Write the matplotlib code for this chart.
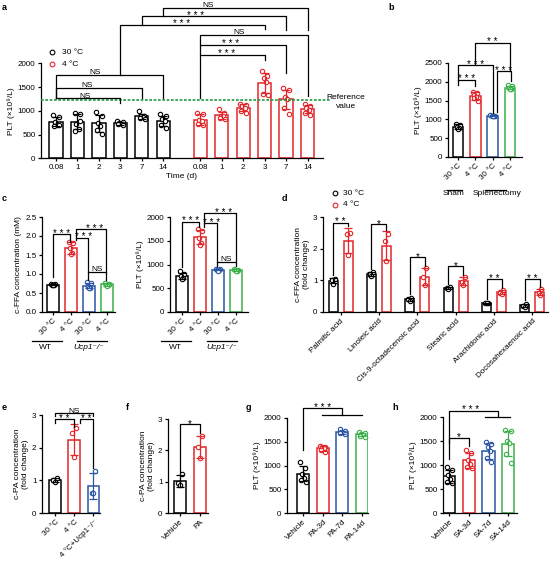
import numpy as np
import matplotlib
matplotlib.use('Agg')
import matplotlib.pyplot as plt

plt.rcParams['font.family'] = ['Liberation Sans', 'DejaVu Sans']
plt.rcParams['axes.linewidth'] = 0.9
plt.rcParams['xtick.major.width'] = 0.9
plt.rcParams['ytick.major.width'] = 0.9
plt.rcParams['xtick.major.size'] = 2.5
plt.rcParams['ytick.major.size'] = 2.5
plt.rcParams['xtick.major.pad'] = 1.5
plt.rcParams['ytick.major.pad'] = 1.5
plt.rcParams['xtick.labelsize'] = 5.8
plt.rcParams['ytick.labelsize'] = 5.8
plt.rcParams['axes.labelsize'] = 6

BLACK = '#000000'
RED = '#e3262a'
BLUE = '#2a55a3'
GREEN = '#3bb04a'
REFGREEN = '#1f9a3f'
COL4 = [BLACK, RED, BLUE, GREEN]

# ---------------- data ----------------
# a: PLT over time, 30 C vs 4 C
a_days = ['0.08', '1', '2', '3', '7', '14']
a_warm = [[910, 860, 770, 700, 680, 700],
          [960, 930, 730, 620, 570, 780],
          [980, 880, 740, 680, 600, 520],
          [780, 760, 740, 730, 720, 700],
          [990, 900, 880, 860, 840, 830],
          [930, 880, 820, 780, 700, 640]]
a_cold = [[960, 930, 800, 780, 720, 700],
          [1040, 950, 900, 880, 850, 830],
          [1140, 1130, 1100, 1050, 1000, 960],
          [1830, 1740, 1700, 1600, 1350, 1330],
          [1470, 1430, 1290, 1250, 1060, 940],
          [1140, 1100, 1050, 1010, 960, 920]]
a_ref = 1225

# b: sham vs splenectomy
b_labels = ['30 °C', '4 °C', '30 °C', '4 °C']
b_plt = [[880, 850, 800, 760, 740],
         [1740, 1700, 1660, 1600, 1560, 1480],
         [1110, 1100, 1090, 1080, 1080],
         [1920, 1880, 1830, 1810, 1800]]

# c: WT vs Ucp1-/-
c_labels = ['30 °C', '4 °C', '30 °C', '4 °C']
c_ffa = [[0.74, 0.73, 0.72, 0.71, 0.70],
         [1.85, 1.82, 1.68, 1.55, 1.52],
         [0.78, 0.77, 0.66, 0.64, 0.62],
         [0.77, 0.75, 0.72, 0.71, 0.69]]
c_plt = [[860, 790, 760, 720, 700],
         [1750, 1700, 1560, 1450, 1420],
         [910, 900, 890, 880, 870],
         [900, 890, 880, 870, 860]]

# d: individual FFAs, fold change
d_acids = ['Palmitic acid', 'Linoleic acid', 'Cis-9-octadecenoic acid',
           'Stearic acid', 'Arachidonic acid', 'Docosahexaenoic acid']
d_warm = [[1.05, 1.0, 0.9], [1.25, 1.2, 1.15], [0.45, 0.4, 0.35],
          [0.78, 0.76, 0.74], [0.3, 0.28, 0.27], [0.25, 0.2, 0.17]]
d_cold = [[2.5, 2.45, 1.8], [2.45, 2.25, 1.6], [1.4, 1.1, 0.85],
          [1.1, 0.95, 0.85], [0.7, 0.6, 0.57], [0.72, 0.6, 0.55]]
d_sig = ['* *', '*', '*', '*', '* *', '* *']
d_sig_y = [2.82, 2.77, 1.73, 1.44, 1.03, 1.03]

# e: c-PA
e_labels = ['30 °C', '4 °C', '4 °C+Ucp1⁻/⁻']
e_pa = [[1.08, 1.0, 0.95], [2.6, 2.45, 1.7], [1.3, 0.6, 0.6]]

# f: c-PA after PA
f_labels = ['Vehicle', 'PA']
f_pa = [[1.25, 0.95, 0.9], [2.45, 2.1, 1.75]]

# g: PLT after PA
g_labels = ['Vehicle', 'PA-3d', 'PA-7d', 'PA-14d']
g_plt = [[1070, 950, 820, 740, 700, 660],
         [1410, 1400, 1390, 1370, 1320, 1290],
         [1760, 1720, 1700, 1690, 1680, 1670],
         [1700, 1690, 1670, 1640, 1620, 1610]]

# h: PLT after SA
h_labels = ['Vehicle', 'SA-3d', 'SA-7d', 'SA-14d']
h_plt = [[950, 900, 800, 700, 650, 620],
         [1320, 1250, 1100, 1020, 950, 940],
         [1480, 1440, 1380, 1300, 1150, 1060],
         [1720, 1700, 1500, 1450, 1230, 1050]]

PLT_LABEL = 'PLT (×10⁹/L)'

# ---------------- helpers ----------------
W, H = 550.0, 561.0
fig = plt.figure(figsize=(5.5, 5.61), dpi=100)

OFFS = {3: [0.16, -0.16, 0.0],
        5: [-0.22, 0.2, -0.08, 0.12, 0.0],
        6: [-0.22, 0.2, -0.08, 0.1, -0.16, 0.22]}


def panel(l, t, r, b):
    ax = fig.add_axes([l / W, 1 - b / H, (r - l) / W, (b - t) / H])
    ax.spines['top'].set_visible(False)
    ax.spines['right'].set_visible(False)
    return ax


def bars(ax, xs, groups, colors, width=0.62):
    for x, pts, c in zip(xs, groups, colors):
        pts = np.array(pts, dtype=float)
        m, sd = pts.mean(), pts.std(ddof=1)
        ax.bar(x, m, width, facecolor='white', edgecolor=c, linewidth=1.1, zorder=2)
        off = np.array(OFFS[len(pts)]) * width
        ax.scatter(x + off, pts, s=10, facecolors='white', edgecolors=c,
                   linewidths=0.8, zorder=3)
        ax.errorbar(x, m, yerr=sd, fmt='none', ecolor=c, elinewidth=0.9,
                    capsize=3.2, capthick=0.9, zorder=4)


def sig(ax, x1, x2, y, y1, y2, txt=None, tx=None):
    ax.plot([x1, x1, x2, x2], [y1, y, y, y2], color='k', lw=0.9,
            clip_on=False, zorder=6)
    if txt:
        tx = (x1 + x2) / 2 if tx is None else tx
        star = '*' in txt
        ax.annotate(txt, (tx, y), xytext=(0, -1.9 if star else 0.6),
                    textcoords='offset points', ha='center', va='baseline',
                    fontsize=7 if star else 6, annotation_clip=False)


def seg(ax, xs, ys):
    ax.plot(xs, ys, color='k', lw=0.9, clip_on=False, zorder=6)


def rot_labels(ax, xs, labels):
    ax.set_xticks(xs)
    ax.set_xticklabels(labels, rotation=45, ha='right', rotation_mode='anchor')


def group_label(ax, x1, x2, xc, text, ly, ty, italic=False):
    tr = ax.get_xaxis_transform()
    ax.plot([x1, x2], [ly, ly], color='k', lw=0.9, transform=tr, clip_on=False)
    ax.text(xc, ty, text, transform=tr, ha='center', va='center', fontsize=6,
            style='italic' if italic else 'normal')


def letter(px, py, s):
    fig.text(px / W, 1 - py / H, s, fontsize=6.5, fontweight='bold',
             ha='left', va='center')


def legend2(ax, x, ys, tx):
    for yy, c, lab in zip(ys, [BLACK, RED], ['30 °C', '4 °C']):
        ax.plot([x], [yy], 'o', ms=3.4, mfc='white', mec=c, mew=0.8,
                transform=ax.transAxes, clip_on=False)
        ax.text(tx, yy, lab, transform=ax.transAxes, va='center', fontsize=6)


# ---------------- panel a ----------------
ax = panel(41, 63.3, 323, 158.3)
C = 6.73
xa_w = np.arange(6)
xa_c = np.arange(6) + C
bars(ax, xa_w, a_warm, [BLACK] * 6)
bars(ax, xa_c, a_cold, [RED] * 6)
ax.set_xlim(-0.7, 12.45)
ax.set_ylim(0, 2000)
ax.set_yticks(range(0, 2001, 500))
ax.set_xticks(np.r_[xa_w, xa_c])
ax.set_xticklabels(a_days * 2)
ax.set_xlabel('Time (d)', labelpad=1.5)
ax.set_ylabel(PLT_LABEL, labelpad=2)
ax.plot([-0.7, 12.8], [a_ref, a_ref], color=REFGREEN, lw=1.2,
        ls=(0, (1.6, 1.0)), clip_on=False, zorder=5)
ax.text(1.082, 0.59, 'Reference\nvalue', transform=ax.transAxes,
        ha='center', va='center', fontsize=6, linespacing=1.4)
legend2(ax, 0.039, [1.116, 0.99], 0.074)
sig(ax, 0, 3, 1260, 1260, 1160, 'NS', tx=1.36)
sig(ax, 0, 4, 1490, 1260, 1260, 'NS', tx=1.45)
sig(ax, 0, 5, 1755, 1260, 1260, 'NS', tx=1.82)
sig(ax, C, C + 3, 2183, 1260, 2063, '* * *', tx=7.93)
sig(ax, C, C + 4, 2393, 2183, 1790, '* * *', tx=8.13)
sig(ax, C, C + 5, 2589, 2393, 1320, 'NS', tx=8.55)
sig(ax, 3, C + 3, 2815, 1755, 2731, '* * *', tx=5.85)
sig(ax, 4, C + 4, 2996, 2815, 2709, '* * *', tx=6.5)
sig(ax, 5, C + 5, 3172, 2996, 2695, 'NS', tx=7.07)

# ---------------- panel b ----------------
ax = panel(448, 63, 522, 157)
xb = np.arange(4)
bars(ax, xb, b_plt, COL4)
ax.set_xlim(-0.58, 3.7)
ax.set_ylim(0, 2500)
ax.set_yticks(range(0, 2501, 500))
rot_labels(ax, xb, b_labels)
ax.set_ylabel(PLT_LABEL, labelpad=2)
group_label(ax, -0.64, 0.23, -0.23, 'Sham', -0.35, -0.39)
group_label(ax, 1.56, 2.77, 2.25, 'Splenectomy', -0.35, -0.39)
sig(ax, 0, 1, 2054, 1920, 1880, '* * *')
sig(ax, 0, 2, 2438, 2054, 1160, '* * *')
sig(ax, 2.25, 3.05, 2277, 1205, 2009, '* * *')
sig(ax, 1, 3, 3036, 2438, 2277, '* *')

# ---------------- panel c (FFA) ----------------
ax = panel(42, 217, 115, 312)
xc = np.arange(4)
bars(ax, xc, c_ffa, COL4)
ax.set_xlim(-0.61, 3.44)
ax.set_ylim(0, 2.5)
ax.set_yticks(np.arange(0, 2.51, 0.5))
ax.set_yticklabels(['%.1f' % v for v in np.arange(0, 2.51, 0.5)])
rot_labels(ax, xc, c_labels)
ax.set_ylabel('c-FFA concentration (mM)', labelpad=2)
group_label(ax, -1.17, 0.5, -0.42, 'WT', -0.305, -0.37)
group_label(ax, 1.33, 3.0, 2.0, 'Ucp1⁻/⁻', -0.305, -0.37, italic=True)
sig(ax, 0, 0.94, 2.05, 0.93, 1.85, '* * *')
sig(ax, 1.3, 1.96, 1.96, 1.9, 1.06, '* * *', tx=1.7)
sig(ax, 1.3, 2.96, 2.18, 1.96, 1.06, '* * *', tx=2.3)
sig(ax, 1.96, 2.96, 1.06, 0.84, 0.84, 'NS')

# ---------------- panel c (PLT) ----------------
ax = panel(170, 217, 248, 312)
bars(ax, xc, c_plt, COL4)
ax.set_xlim(-0.67, 3.67)
ax.set_ylim(0, 2000)
ax.set_yticks(range(0, 2001, 500))
rot_labels(ax, xc, c_labels)
ax.set_ylabel(PLT_LABEL, labelpad=2)
group_label(ax, -1.18, 0.48, -0.35, 'WT', -0.305, -0.37)
group_label(ax, 1.37, 3.07, 2.2, 'Ucp1⁻/⁻', -0.305, -0.37, italic=True)
sig(ax, 0, 0.96, 1901, 954, 1796, '* * *')
sig(ax, 1.22, 1.96, 1867, 1800, 1059, '* * *', tx=1.65)
sig(ax, 1.22, 2.98, 2077, 1867, 1059, '* * *', tx=2.3)
sig(ax, 1.96, 2.98, 1059, 968, 968, 'NS')

# ---------------- panel d ----------------
ax = panel(323, 217, 548, 312)
xd_w = np.arange(6) * 2.553
xd_c = xd_w + 1
bars(ax, xd_w, d_warm, [BLACK] * 6, width=0.6)
bars(ax, xd_c, d_cold, [RED] * 6, width=0.6)
ax.set_xlim(-0.67, 14.3)
ax.set_ylim(0, 3)
ax.set_yticks([0, 1, 2, 3])
rot_labels(ax, xd_w + 0.5, d_acids)
ax.set_ylabel('c-FFA concentration\n(fold change)', labelpad=2)
legend2(ax, 0.053, [1.25, 1.13], 0.09)
for xw, xr, w, r, s, yy in zip(xd_w, xd_c, d_warm, d_cold, d_sig, d_sig_y):
    top_r = max(max(r), np.mean(r) + np.std(r, ddof=1)) + 0.06
    sig(ax, xw, xr, yy, max(w) + 0.12, top_r, s)

# ---------------- panel e ----------------
ax = panel(42, 415, 100, 513)
xe = np.arange(3)
bars(ax, xe, e_pa, [BLACK, RED, BLUE])
ax.set_xlim(-0.69, 2.34)
ax.set_ylim(0, 3)
ax.set_yticks([0, 1, 2, 3])
rot_labels(ax, xe, e_labels)
ax.set_ylabel('c-PA concentration\n(fold change)', labelpad=2)
sig(ax, 0, 1, 2.87, 2.75, 2.62, '* *', tx=0.47)
sig(ax, 1.3, 2, 2.87, 2.75, 1.37, '* *', tx=1.6)
sig(ax, 0, 2, 3.05, 2.97, 2.97, 'NS')

# ---------------- panel f ----------------
ax = panel(168, 419, 208, 513)
xf = np.arange(2)
bars(ax, xf, f_pa, [BLACK, RED])
ax.set_xlim(-0.6, 1.4)
ax.set_ylim(0, 3)
ax.set_yticks([0, 1, 2, 3])
rot_labels(ax, xf, f_labels)
ax.set_ylabel('c-PA concentration\n(fold change)', labelpad=2)
sig(ax, 0, 1, 2.83, 1.32, 2.55, '*')

# ---------------- panel g ----------------
ax = panel(287, 418, 368, 513)
xg = np.arange(4)
bars(ax, xg, g_plt, COL4)
ax.set_xlim(-0.81, 3.3)
ax.set_ylim(0, 2000)
ax.set_yticks(range(0, 2001, 500))
rot_labels(ax, xg, g_labels)
ax.set_ylabel(PLT_LABEL, labelpad=2)
sig(ax, 0, 1.98, 2210, 1326, 2063, '* * *', tx=0.97)
seg(ax, [0.95, 2.98], [2063, 2063])

# ---------------- panel h ----------------
ax = panel(443, 417, 517, 513)
xh = np.arange(4)
bars(ax, xh, h_plt, COL4)
ax.set_xlim(-0.32, 3.45)
ax.set_ylim(0, 2000)
ax.set_yticks(range(0, 2001, 500))
rot_labels(ax, xh, h_labels)
ax.set_ylabel(PLT_LABEL, labelpad=2)
sig(ax, 0, 2.49, 2133, 1116, 1993, '* * *', tx=1.07)
seg(ax, [1.83, 3.1], [1993, 1993])
sig(ax, 0, 1, 1572, 1467, 1400, '*')

# ---------------- panel letters ----------------
letter(2, 7, 'a')
letter(388, 7, 'b')
letter(2, 198, 'c')
letter(282, 198, 'd')
letter(2, 407, 'e')
letter(126, 407, 'f')
letter(246, 407, 'g')
letter(392, 407, 'h')

fig.savefig('out.png', dpi=100)
